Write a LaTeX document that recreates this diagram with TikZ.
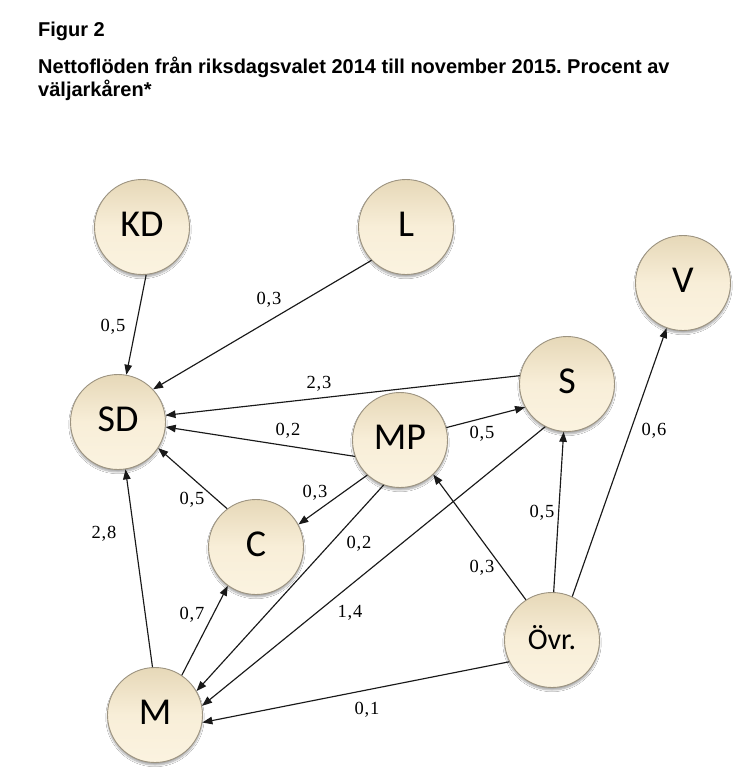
\documentclass[tikz,border=0pt]{standalone}
\usepackage{fontspec}
\usetikzlibrary{arrows.meta,shadows,shadows.blur}
\newfontfamily\ttlfont{Liberation Sans}
\newfontfamily\crcfont{Carlito}
\newfontfamily\lblfont[LetterSpace=5]{Liberation Serif}
\definecolor{ctop}{HTML}{E6D8B8}
\definecolor{cmid}{HTML}{F8EED8}
\definecolor{cbot}{HTML}{FBF3E0}
\definecolor{cborder}{HTML}{9C9380}
\frenchspacing
\begin{document}
\begin{tikzpicture}[x=1pt,y=-1pt,
  party/.style={circle, minimum size=95pt, inner sep=0pt, draw=cborder, line width=0.9pt,
    top color=ctop, bottom color=cbot, middle color=cmid,
    blur shadow={shadow xshift=0pt, shadow yshift=-2.5pt, shadow opacity=35, shadow blur steps=6},
    font=\crcfont\fontsize{38}{40}\selectfont, text height=24pt, text depth=6pt},
  flow/.style={-{Triangle[length=10pt,width=7.5pt]}, line width=1.15pt, draw=black!90},
  lbl/.style={font=\lblfont\fontsize{18.5}{20}\selectfont, inner sep=0pt},
  ttl/.style={font=\ttlfont\bfseries\fontsize{20}{24}\selectfont, anchor=base west, inner sep=0pt}]
\useasboundingbox (0,0) rectangle (749,773);
\fill[white] (0,0) rectangle (749,773);
\node[ttl] (t1) at (38,37) {Figur 2};
\node[ttl] (t2) at (38,74) {Nettoflöden från riksdagsvalet 2014 till november 2015. Procent av};
\node[ttl] (t3) at (38,96.5) {väljarkåren*};

\node[party] (KD) at (142,227) {KD};
\node[party] (L) at (406,227) {L};
\node[party] (V) at (683,283) {V};
\node[party] (SD) at (118,422) {SD};
\node[party] (S) at (567,384) {S};
\node[party] (MP) at (400,440) {MP};
\node[party] (C) at (256,547) {C};
\node[party] (M) at (155,715) {M};
\node[party, font=\crcfont\fontsize{30}{32}\selectfont] (O) at (552,640) {Övr.};

\draw[flow] (KD.-85) -- (SD.80);
\draw[flow] (L.224) -- (SD.43);
\draw[flow] (S.170) -- (SD.8);
\draw[flow] (MP.200) -- (SD.-6);
\draw[flow] (MP.15) -- (S.209);
\draw[flow] (S.243) -- (M.11);
\draw[flow] (MP.250) -- (M.30);
\draw[flow] (MP.227) -- (C.28);
\draw[flow] (C.127) -- (SD.-33);
\draw[flow] (M.93) -- (SD.-81);
\draw[flow] (M.56) -- (C.234);
\draw[flow] (O.207) -- (M.-9);
\draw[flow] (O.123) -- (MP.-46);
\draw[flow] (O.88) -- (S.-94);
\draw[flow] (O.65) -- (V.250);

\node[lbl] (l1) at (113,327) {0,5};
\node[lbl] (l2) at (269,300) {0,3};
\node[lbl] (l3) at (319,384) {2,3};
\node[lbl] (l4) at (288,431) {0,2};
\node[lbl] (l5) at (482,434) {0,5};
\node[lbl] (l6) at (654,431) {0,6};
\node[lbl] (l7) at (542,513) {0,5};
\node[lbl] (l8) at (482,568) {0,3};
\node[lbl] (l9) at (192,500) {0,5};
\node[lbl] (l10) at (315,493) {0,3};
\node[lbl] (l11) at (359,544) {0,2};
\node[lbl] (l12) at (350,613) {1,4};
\node[lbl] (l13) at (104,534) {2,8};
\node[lbl] (l14) at (192,615) {0,7};
\node[lbl] (l15) at (367,710) {0,1};
\end{tikzpicture}
\end{document}
